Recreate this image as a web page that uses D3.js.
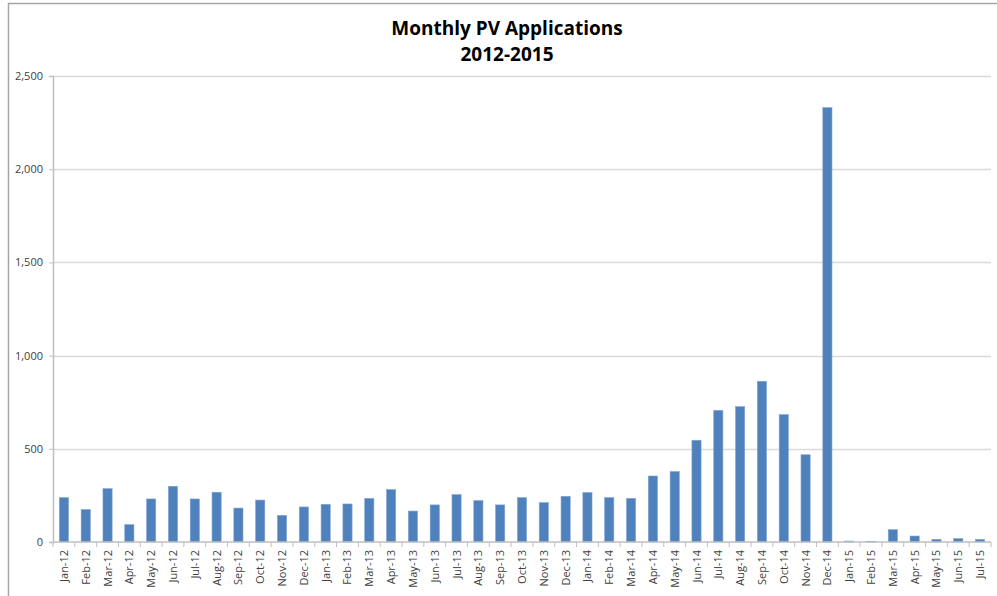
<!DOCTYPE html>
<html>
<head>
<meta charset="utf-8">
<script src="https://cdn.jsdelivr.net/npm/d3@7"></script>
<style>
  body { margin: 0; background: #fff; }
  svg text { font-family: "Open Sans", "Liberation Sans", sans-serif; }
</style>
</head>
<body>
<div id="chart"></div>
<script>
// data
const months = ["Jan-12","Feb-12","Mar-12","Apr-12","May-12","Jun-12","Jul-12","Aug-12","Sep-12","Oct-12","Nov-12","Dec-12",
  "Jan-13","Feb-13","Mar-13","Apr-13","May-13","Jun-13","Jul-13","Aug-13","Sep-13","Oct-13","Nov-13","Dec-13",
  "Jan-14","Feb-14","Mar-14","Apr-14","May-14","Jun-14","Jul-14","Aug-14","Sep-14","Oct-14","Nov-14","Dec-14",
  "Jan-15","Feb-15","Mar-15","Apr-15","May-15","Jun-15","Jul-15"];
const applications = [238,174,286,93,231,299,231,267,182,225,143,188,
  202,204,234,281,166,199,254,222,199,238,211,245,
  265,238,234,354,378,546,706,726,862,683,468,2330,
  5,4,66,32,14,18,14];
const yTicks = [0,500,1000,1500,2000,2500];
const titleLines = ["Monthly PV Applications","2012-2015"];

const W = 997, H = 596;
const margin = {left: 53, right: 6, top: 76, bottom: 54};

const svg = d3.select("#chart").append("svg").attr("width",W).attr("height",H);

// outer chart frame (only top and left edges visible in the picture)
svg.append("path").attr("d","M8.5,596 L8.5,3.5 L997,3.5")
  .attr("fill","none").attr("stroke","#a6a6a6").attr("stroke-width",1.5);

const x = d3.scaleBand().domain(months).range([margin.left, W - margin.right]).paddingInner(0.58).paddingOuter(0.29);
const y = d3.scaleLinear().domain([0,2500]).range([H - margin.bottom, margin.top]);

// gridlines
svg.append("g").selectAll("line").data(yTicks.slice(1)).join("line")
  .attr("x1",margin.left).attr("x2",W - margin.right)
  .attr("y1",d=>Math.round(y(d))+0.5).attr("y2",d=>Math.round(y(d))+0.5)
  .attr("stroke","#d9d9d9").attr("stroke-width",1.5);

// y axis
const yAxis = svg.append("g").attr("transform",`translate(${margin.left},0)`)
  .call(d3.axisLeft(y).tickValues(yTicks).tickFormat(d3.format(",")).tickSize(4).tickPadding(6));
yAxis.select(".domain").attr("stroke","#bfbfbf").attr("stroke-width",1.5);
yAxis.selectAll(".tick line").attr("stroke","#bfbfbf");
yAxis.selectAll("text").attr("font-size",11).attr("fill","#404040");

// bars
svg.append("g").selectAll("rect").data(applications).join("rect")
  .attr("x",(d,i)=>x(months[i]))
  .attr("width",x.bandwidth())
  .attr("y",d=>y(d))
  .attr("height",d=>y(0)-y(d))
  .attr("fill","#4f81bd")
  .attr("stroke","#7ea3d1").attr("stroke-width",0.6);

// x axis with ticks between categories
const step = x.step();
const xg = svg.append("g").attr("transform",`translate(0,${y(0)})`);
xg.append("line").attr("x1",margin.left).attr("x2",W - margin.right)
  .attr("stroke","#bfbfbf").attr("stroke-width",1.5);
xg.selectAll("line.tk").data(d3.range(months.length+1)).join("line").attr("class","tk")
  .attr("x1",i=>margin.left + i*(W - margin.right - margin.left)/months.length)
  .attr("x2",i=>margin.left + i*(W - margin.right - margin.left)/months.length)
  .attr("y1",0).attr("y2",5).attr("stroke","#bfbfbf");
xg.selectAll("text").data(months).join("text")
  .attr("transform",d=>`translate(${x(d)+x.bandwidth()/2+4},8) rotate(-90)`)
  .attr("text-anchor","end")
  .attr("font-size",11).attr("fill","#404040")
  .text(d=>d);

// title
svg.append("g").selectAll("text").data(titleLines).join("text")
  .attr("x",507).attr("y",(d,i)=>35 + i*26)
  .attr("text-anchor","middle")
  .attr("font-size",19).attr("font-weight","bold").attr("fill","#000")
  .text(d=>d);
</script>
</body>
</html>
